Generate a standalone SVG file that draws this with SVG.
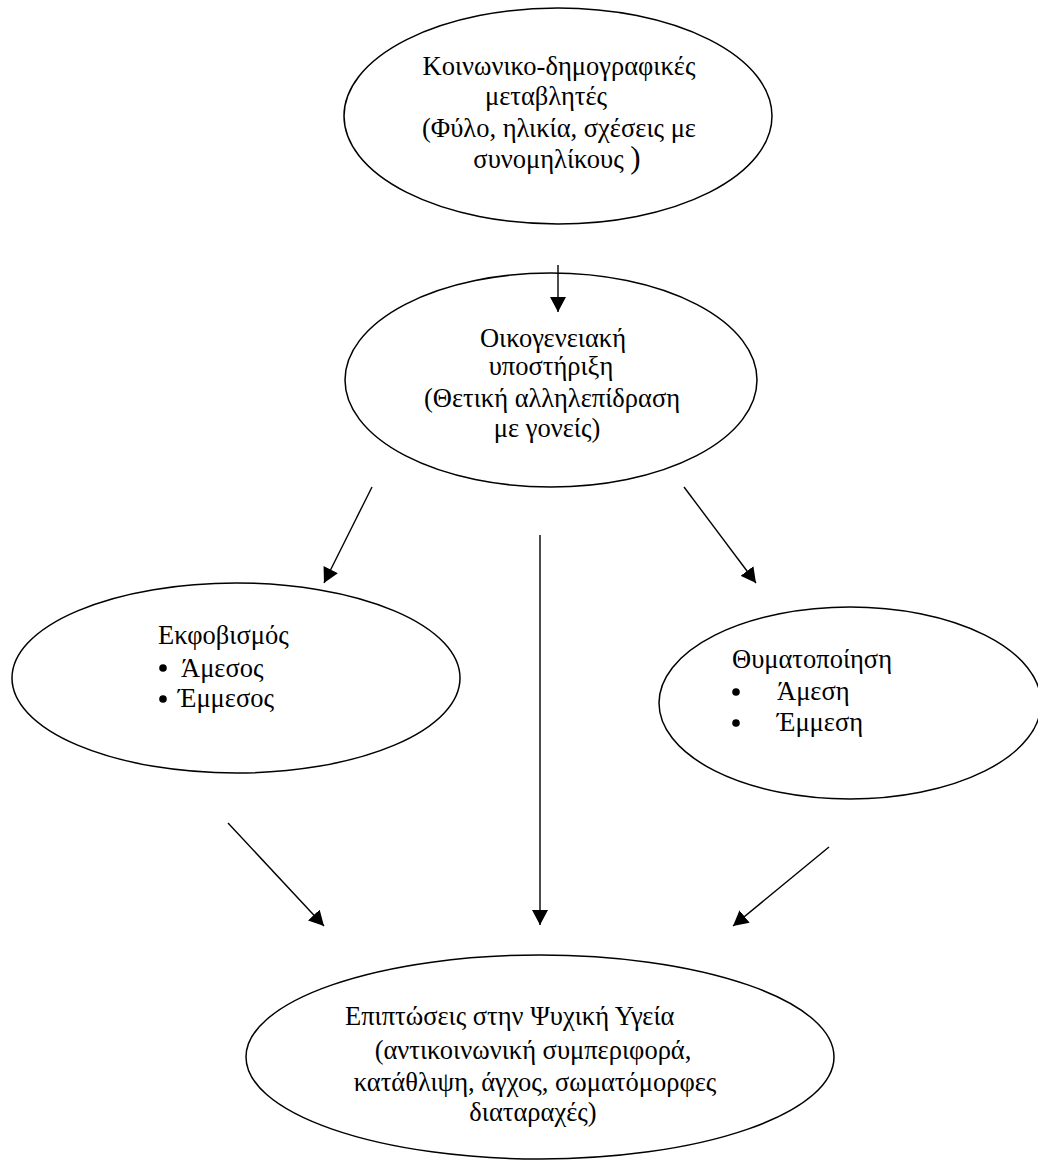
<svg xmlns="http://www.w3.org/2000/svg" width="1038" height="1160" viewBox="0 0 1038 1160">
<style>
.node ellipse{fill:#fff;stroke:#000;stroke-width:1.5}
text{font-family:"Liberation Serif","Times New Roman",serif;font-size:26.5px;fill:#000}
.c{text-anchor:middle}
.edge{stroke:#000;stroke-width:1.4;fill:none}
</style>
<defs>
<marker id="ah" markerUnits="userSpaceOnUse" markerWidth="16" markerHeight="16" refX="15" refY="8" orient="auto">
<path d="M0,0 L15,8 L0,16 z" fill="#000"/>
</marker>
</defs>
<rect width="1038" height="1160" fill="#fff"/>
<g id="node-sociodemographic" class="node">
<ellipse cx="558" cy="116" rx="214" ry="108"/>
<text class="c" x="559" y="75">Κοινωνικο-δημογραφικές</text>
<text class="c" x="546" y="105">μεταβλητές</text>
<text class="c" x="559" y="137">(Φύλο, ηλικία, σχέσεις με</text>
<text class="c" x="557" y="168">συνομηλίκους <tspan font-size="31">)</tspan></text>
</g>
<g id="node-family" class="node">
<ellipse cx="551" cy="380" rx="206" ry="107"/>
<text class="c" x="553" y="347">Οικογενειακή</text>
<text class="c" x="551" y="375">υποστήριξη</text>
<text class="c" x="552" y="407">(Θετική αλληλεπίδραση</text>
<text class="c" x="547" y="437">με γονείς)</text>
</g>
<g id="node-bullying" class="node">
<ellipse cx="236" cy="678" rx="224" ry="95"/>
<text x="158" y="644">Εκφοβισμός</text>
<circle cx="163" cy="668" r="3.8"/>
<text x="181" y="677">Άμεσος</text>
<circle cx="163" cy="699" r="3.8"/>
<text x="178" y="707">Έμμεσος</text>
</g>
<g id="node-victimization" class="node">
<ellipse cx="850" cy="703" rx="191" ry="96"/>
<text x="732" y="668">Θυματοποίηση</text>
<circle cx="736" cy="692" r="3.8"/>
<text x="777" y="700">Άμεση</text>
<circle cx="736" cy="723" r="3.8"/>
<text x="777" y="731">Έμμεση</text>
</g>
<g id="node-mental-health" class="node">
<ellipse cx="540" cy="1057" rx="294" ry="102"/>
<text x="345" y="1025">Επιπτώσεις στην Ψυχική Υγεία</text>
<text class="c" x="533" y="1059">(αντικοινωνική συμπεριφορά,</text>
<text class="c" x="535" y="1091">κατάθλιψη, άγχος, σωματόμορφες</text>
<text class="c" x="533" y="1121">διαταραχές)</text>
</g>
<g id="connectors">
<line class="edge" x1="558" y1="265" x2="558" y2="312" marker-end="url(#ah)"/>
<line class="edge" x1="372" y1="487" x2="324" y2="583" marker-end="url(#ah)"/>
<line class="edge" x1="684" y1="487" x2="756" y2="583" marker-end="url(#ah)"/>
<line class="edge" x1="540" y1="535" x2="540" y2="925" marker-end="url(#ah)"/>
<line class="edge" x1="228" y1="823" x2="324" y2="926" marker-end="url(#ah)"/>
<line class="edge" x1="829" y1="847" x2="733" y2="926" marker-end="url(#ah)"/>
</g>
</svg>
